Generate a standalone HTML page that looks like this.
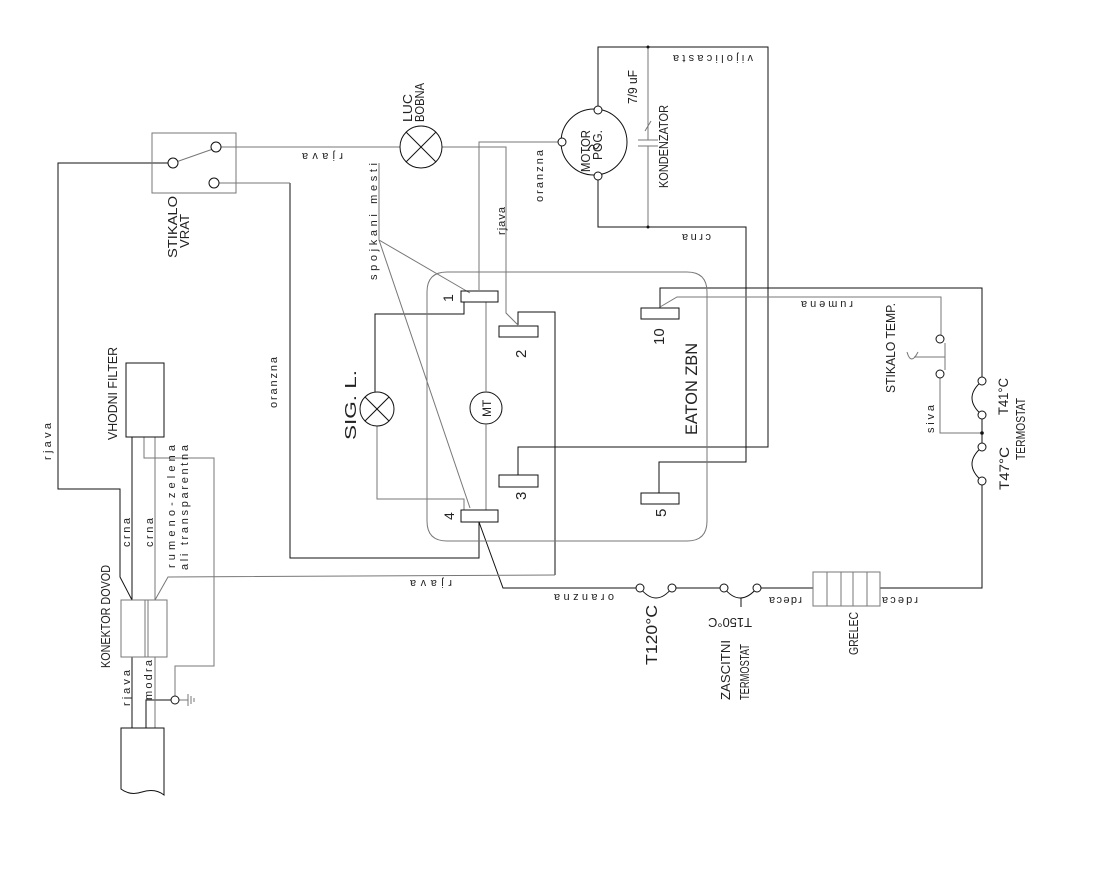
<!DOCTYPE html>
<html><head><meta charset="utf-8"><style>
html,body{margin:0;padding:0;background:#fff;}
svg{display:block;}
text{font-family:"Liberation Sans Narrow","Liberation Sans",sans-serif;fill:#222;}
.m{font-family:"Liberation Mono",monospace;font-size:11px;}
.c{font-size:13px;}
</style></head><body>
<svg width="1106" height="886" viewBox="0 0 1106 886" xmlns="http://www.w3.org/2000/svg">
<g fill="none" stroke-width="1">
<g stroke="#111">
<polyline points="173,163 58,163 58,489 120,489 120,577 132,600"/>
<line x1="132" y1="437" x2="132" y2="600"/>
<line x1="132" y1="657" x2="132" y2="728"/>
<polyline points="146,728 146,700 171,700"/>
<polyline points="598,176 598,227 746,227 746,462 659,462 659,493"/>
<polyline points="598,110 598,47 768,47 768,447 518,447 518,475"/>
<polyline points="479,522 503,588 640,588"/>
<polyline points="672,588 724,588"/>
<polyline points="757,588 813,588"/>
<polyline points="880,588 982,588 982,481"/>
<polyline points="982,447 982,415"/>
<polyline points="982,381 982,288 660,288 660,308"/>
<polyline points="290,183 290,558 479,558 479,522"/>
<polyline points="375,393 375,314 464,314 464,302"/>
<polyline points="518,325 518,312 555,312 555,575"/>
<circle cx="594" cy="142" r="33"/>
<circle cx="486" cy="408" r="16"/>
</g>
<g stroke="#777">
<rect x="152" y="133" width="84" height="60"/>
<line x1="176" y1="162" x2="213" y2="149"/>
<polyline points="218,147 400,147"/>
<polyline points="442,147 506,147 506,313 518,325"/>
<polyline points="479,290 479,142 562,142"/>
<polyline points="218,183 290,183"/>
<polyline points="379,163 379,240 470,293"/>
<polyline points="379,240 470,508"/>
<path d="M447,272 H687 Q707,272 707,292 V521 Q707,541 687,541 H447 Q427,541 427,521 V292 Q427,272 447,272 Z"/>
<polyline points="486,302 486,392"/>
<polyline points="486,424 486,510"/>
<polyline points="377,426 377,499 464,499 464,510"/>
<line x1="648" y1="47" x2="648" y2="140"/>
<line x1="648" y1="146" x2="648" y2="227"/>
<line x1="638" y1="140" x2="658" y2="140"/>
<line x1="638" y1="146" x2="658" y2="146"/>
<line x1="645" y1="131" x2="651" y2="121"/>
<polyline points="660,307 677,297 941,297 941,335"/>
<polyline points="940,378 940,433 982,433"/>
<polyline points="914,357 945,357 945,343"/>
<path d="M907,352 Q911,366 918,352"/>
<line x1="945" y1="357" x2="945" y2="370"/>
<polyline points="144,437 144,458 214,458 214,666 175,666 175,696"/>
<line x1="155" y1="437" x2="155" y2="600"/>
<polyline points="155,600 168,577 555,575"/>
<line x1="155" y1="657" x2="155" y2="728"/>
<line x1="179" y1="700" x2="188" y2="700"/>
<line x1="188" y1="694" x2="188" y2="706"/>
<line x1="191" y1="696" x2="191" y2="704"/>
<line x1="194" y1="698" x2="194" y2="702"/>
<rect x="121" y="600" width="46" height="57"/>
<line x1="145" y1="600" x2="145" y2="657"/>
<line x1="148" y1="600" x2="148" y2="657"/>
<rect x="813" y="572" width="67" height="34"/>
<line x1="827" y1="572" x2="827" y2="606"/>
<line x1="841" y1="572" x2="841" y2="606"/>
<line x1="853" y1="572" x2="853" y2="606"/>
<line x1="867" y1="572" x2="867" y2="606"/>
</g>
<g stroke="#111">
<rect x="126" y="363" width="38" height="74"/>
<path d="M121,728 H164 V795 Q155,788 142,792 Q130,796 121,789 Z"/>
<rect x="461" y="291" width="37" height="11"/>
<rect x="499" y="326" width="39" height="11"/>
<rect x="499" y="475" width="39" height="12"/>
<rect x="461" y="510" width="37" height="12"/>
<rect x="641" y="493" width="38" height="11"/>
<rect x="641" y="308" width="38" height="11"/>
<path d="M640,588 Q656,608 672,588"/>
<path d="M724,588 Q740,608 757,588"/>
<line x1="741" y1="598" x2="741" y2="607"/>
<path d="M982,381 Q962,398 982,415"/>
<path d="M982,447 Q962,464 982,481"/>
</g>
<g stroke="#111" fill="#fff">
<circle cx="173" cy="163" r="5"/><circle cx="216" cy="147" r="5"/><circle cx="214" cy="183" r="5"/>
<circle cx="562" cy="142" r="4"/><circle cx="598" cy="110" r="4"/><circle cx="598" cy="176" r="4"/>
<circle cx="175" cy="700" r="4"/>
<circle cx="940" cy="339" r="4"/><circle cx="940" cy="374" r="4"/>
<circle cx="982" cy="381" r="4"/><circle cx="982" cy="415" r="4"/>
<circle cx="982" cy="447" r="4"/><circle cx="982" cy="481" r="4"/>
<circle cx="640" cy="588" r="4"/><circle cx="672" cy="588" r="4"/>
<circle cx="724" cy="588" r="4"/><circle cx="757" cy="588" r="4"/>
<circle cx="421" cy="147" r="21"/>
<circle cx="377" cy="409" r="17"/>
</g>
<g stroke="#111">
<line x1="406" y1="132" x2="436" y2="162"/><line x1="436" y1="132" x2="406" y2="162"/>
<line x1="365" y1="397" x2="389" y2="421"/><line x1="389" y1="397" x2="365" y2="421"/>
<path d="M588,150 Q592,142 594,147 Q596,152 600,144"/>
</g>
<circle cx="982" cy="433" r="1.8" fill="#111"/>
<circle cx="648" cy="47" r="1.5" fill="#111"/><circle cx="648" cy="227" r="1.5" fill="#111"/>
</g>
<g class="c">
<text transform="translate(412,122) rotate(-90)" textLength="28" lengthAdjust="spacingAndGlyphs">LUC</text>
<text transform="translate(424,122) rotate(-90)" textLength="39" lengthAdjust="spacingAndGlyphs">BOBNA</text>
<text transform="translate(177,258) rotate(-90)" textLength="62" lengthAdjust="spacingAndGlyphs">STIKALO</text>
<text transform="translate(189,248) rotate(-90)" textLength="34" lengthAdjust="spacingAndGlyphs">VRAT</text>
<text transform="translate(590,172) rotate(-90)" textLength="42" lengthAdjust="spacingAndGlyphs">MOTOR</text>
<text transform="translate(602,160) rotate(-90)" textLength="30" lengthAdjust="spacingAndGlyphs">POG.</text>
<text transform="translate(637,104) rotate(-90)" textLength="34" lengthAdjust="spacingAndGlyphs">7/9 uF</text>
<text transform="translate(668,188) rotate(-90)" textLength="83" lengthAdjust="spacingAndGlyphs">KONDENZATOR</text>
<text transform="translate(117,440) rotate(-90)" textLength="93" lengthAdjust="spacingAndGlyphs">VHODNI FILTER</text>
<text transform="translate(110,668) rotate(-90)" textLength="103" lengthAdjust="spacingAndGlyphs">KONEKTOR DOVOD</text>
<text transform="translate(356,440) rotate(-90)" style="font-size:16px" textLength="70" lengthAdjust="spacingAndGlyphs">SIG. L.</text>
<text transform="translate(491,417) rotate(-90)" style="font-size:12px">MT</text>
<text transform="translate(697,435) rotate(-90)" style="font-size:17px" textLength="92" lengthAdjust="spacingAndGlyphs">EATON ZBN</text>
<text transform="translate(453,302) rotate(-90)" style="font-size:14px">1</text>
<text transform="translate(526,358) rotate(-90)" style="font-size:15px">2</text>
<text transform="translate(526,500) rotate(-90)" style="font-size:15px">3</text>
<text transform="translate(454,520) rotate(-90)" style="font-size:14px">4</text>
<text transform="translate(666,517) rotate(-90)" style="font-size:15px">5</text>
<text transform="translate(664,345) rotate(-90)" style="font-size:15px">10</text>
<text transform="translate(895,393) rotate(-90)" textLength="90" lengthAdjust="spacingAndGlyphs">STIKALO TEMP.</text>
<text transform="translate(1008,415) rotate(-90)" style="font-size:14px" textLength="37" lengthAdjust="spacingAndGlyphs">T41°C</text>
<text transform="translate(1025,460) rotate(-90)" textLength="62" lengthAdjust="spacingAndGlyphs">TERMOSTAT</text>
<text transform="translate(1009,490) rotate(-90)" style="font-size:14px" textLength="43" lengthAdjust="spacingAndGlyphs">T47°C</text>
<text transform="translate(657,665) rotate(-90)" style="font-size:16px" textLength="60" lengthAdjust="spacingAndGlyphs">T120°C</text>
<text transform="translate(752,618) rotate(180)" style="font-size:13px" textLength="44" lengthAdjust="spacingAndGlyphs">T150°C</text>
<text transform="translate(730,700) rotate(-90)" textLength="60" lengthAdjust="spacingAndGlyphs">ZASCITNI</text>
<text transform="translate(749,700) rotate(-90)" textLength="56" lengthAdjust="spacingAndGlyphs">TERMOSTAT</text>
<text transform="translate(858,655) rotate(-90)" textLength="43" lengthAdjust="spacingAndGlyphs">GRELEC</text>
</g>
<g class="m">
<text transform="translate(343,153) rotate(180)" textLength="41">rjava</text>
<text transform="translate(377,280) rotate(-90)" textLength="117">spojkani mesti</text>
<text transform="translate(505,235) rotate(-90)" textLength="28">rjava</text>
<text transform="translate(543,202) rotate(-90)" textLength="52">oranzna</text>
<text transform="translate(753,55) rotate(180)" textLength="80">vijolicasta</text>
<text transform="translate(711,234) rotate(180)" textLength="29">crna</text>
<text transform="translate(853,301) rotate(180)" textLength="52">rumena</text>
<text transform="translate(934,433) rotate(-90)" textLength="28">siva</text>
<text transform="translate(277,408) rotate(-90)" textLength="51">oranzna</text>
<text transform="translate(51,460) rotate(-90)" textLength="37">rjava</text>
<text transform="translate(130,547) rotate(-90)" textLength="29">crna</text>
<text transform="translate(153,547) rotate(-90)" textLength="29">crna</text>
<text transform="translate(175,568) rotate(-90)" textLength="123">rumeno-zelena</text>
<text transform="translate(188,570) rotate(-90)" textLength="125">ali transparentna</text>
<text transform="translate(130,706) rotate(-90)" textLength="36">rjava</text>
<text transform="translate(152,700) rotate(-90)" textLength="40">modra</text>
<text transform="translate(452,580) rotate(180)" textLength="42">rjava</text>
<text transform="translate(614,594) rotate(180)" textLength="60">oranzna</text>
<text transform="translate(802,597) rotate(180)" textLength="33">rdeca</text>
<text transform="translate(918,597) rotate(180)" textLength="36">rdeca</text>
</g>
</svg>
</body></html>
